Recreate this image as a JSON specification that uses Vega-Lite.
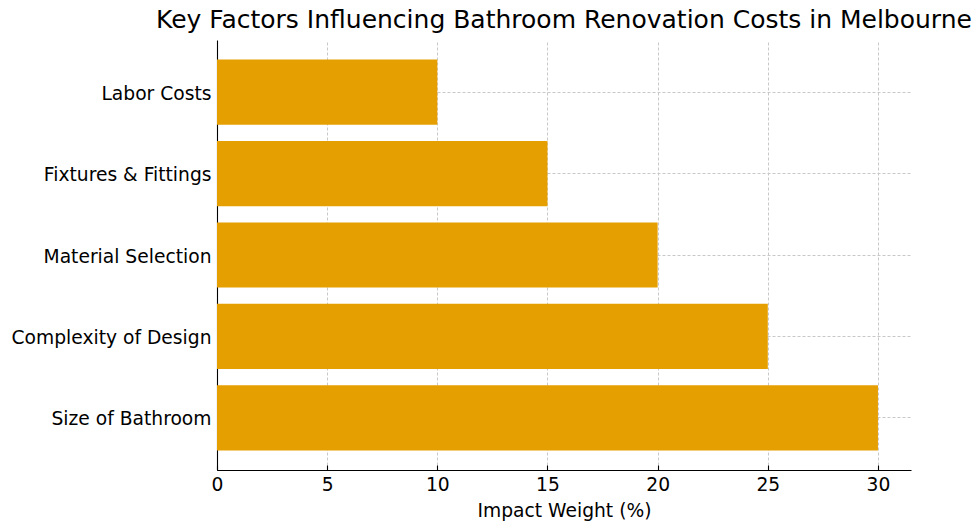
{
  "$schema": "https://vega.github.io/schema/vega-lite/v6.json",
  "autosize": {"type": "none"},
  "padding": {"left": 217, "top": 40, "right": 69, "bottom": 60},
  "width": 694,
  "height": 430,
  "background": "white",
  "title": {
    "text": "Key Factors Influencing Bathroom Renovation Costs in Melbourne",
    "font": "DejaVu Sans",
    "fontSize": 25,
    "fontWeight": "normal",
    "color": "#000000",
    "anchor": "middle",
    "baseline": "alphabetic",
    "offset": -13
  },
  "config": {
    "view": {"stroke": null},
    "font": "DejaVu Sans",
    "axis": {
      "labelFont": "DejaVu Sans",
      "labelFontSize": 18.7,
      "labelColor": "#000000",
      "titleFont": "DejaVu Sans",
      "titleFontSize": 18.7,
      "titleFontWeight": "normal",
      "titleColor": "#000000",
      "domainColor": "#000000",
      "domainWidth": 1.1,
      "tickColor": "#000000",
      "tickWidth": 1.1,
      "tickSize": -5,
      "labelPadding": 10,
      "gridColor": "#c8c8c8",
      "gridWidth": 1,
      "gridDash": [3, 2],
      "zindex": 1
    }
  },
  "data": {
    "values": [
      {"factor": "Size of Bathroom", "weight": 30},
      {"factor": "Complexity of Design", "weight": 25},
      {"factor": "Material Selection", "weight": 20},
      {"factor": "Fixtures & Fittings", "weight": 15},
      {"factor": "Labor Costs", "weight": 10}
    ]
  },
  "mark": {"type": "bar", "color": "#E69F00"},
  "encoding": {
    "y": {
      "field": "factor",
      "type": "nominal",
      "sort": ["Labor Costs", "Fixtures & Fittings", "Material Selection", "Complexity of Design", "Size of Bathroom"],
      "scale": {"paddingInner": 0.2, "paddingOuter": 0.24},
      "axis": {"title": null, "grid": true, "labelLimit": 300, "labelPadding": 11, "labelOffset": 1.5}
    },
    "x": {
      "field": "weight",
      "type": "quantitative",
      "scale": {"domain": [0, 31.5], "nice": false, "zero": true},
      "axis": {
        "title": "Impact Weight (%)",
        "values": [0, 5, 10, 15, 20, 25, 30],
        "grid": true,
        "titlePadding": 8,
        "labelFlush": false
      }
    }
  }
}
